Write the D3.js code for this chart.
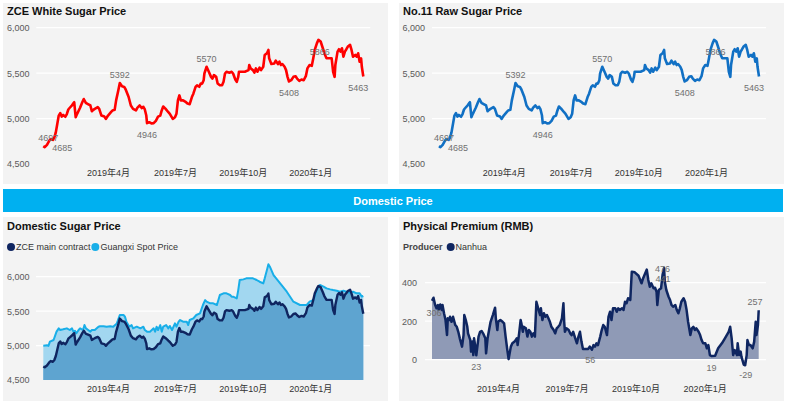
<!DOCTYPE html>
<html><head><meta charset="utf-8">
<script src="https://cdn.jsdelivr.net/npm/d3@7"></script>
<style>
body{margin:0;background:#fff}
svg{display:block}
text{font-family:'Liberation Sans',Arial,'Noto Sans CJK SC',sans-serif}
</style>
</head><body>
<svg id="c" width="786" height="404"></svg>
<script>
// ---------------- DATA ----------------
const whiteSugarSeries = [
["2019-01-03",4697],["2019-01-05",4685],["2019-01-08",4710],["2019-01-11",4755],["2019-01-13",4775],
["2019-01-16",4765],["2019-01-18",4790],["2019-01-20",4848],["2019-01-22",4940],["2019-01-24",5033],
["2019-01-26",5060],["2019-01-28",5022],["2019-01-30",5040],["2019-02-02",5020],["2019-02-04",5050],
["2019-02-06",5100],["2019-02-08",5119],["2019-02-11",5146],["2019-02-13",5170],["2019-02-14",5180],
["2019-02-16",5015],["2019-02-18",5052],["2019-02-22",5119],["2019-02-25",5180],["2019-02-27",5215],
["2019-03-02",5170],["2019-03-04",5163],["2019-03-08",5144],["2019-03-10",5081],["2019-03-12",5096],
["2019-03-14",5107],["2019-03-18",5126],["2019-03-20",5107],["2019-03-23",5033],["2019-03-27",5022],
["2019-03-29",4996],["2019-04-01",5033],["2019-04-05",5070],["2019-04-07",5089],["2019-04-10",5096],
["2019-04-12",5200],["2019-04-15",5311],["2019-04-17",5392],["2019-04-20",5355],["2019-04-23",5348],
["2019-04-25",5320],["2019-04-29",5237],["2019-05-02",5144],["2019-05-05",5107],["2019-05-09",5090],
["2019-05-11",5120],["2019-05-14",5144],["2019-05-17",5115],["2019-05-19",5130],["2019-05-21",5100],
["2019-05-23",5033],["2019-05-24",4950],["2019-05-27",4960],["2019-05-30",4946],["2019-06-02",4950],
["2019-06-05",4975],["2019-06-08",5022],["2019-06-11",5033],["2019-06-13",5089],["2019-06-15",5133],
["2019-06-18",5110],["2019-06-22",5070],["2019-06-24",5052],["2019-06-28",4996],["2019-07-01",5015],
["2019-07-03",5052],["2019-07-05",5200],["2019-07-07",5255],["2019-07-09",5200],["2019-07-12",5200],
["2019-07-16",5180],["2019-07-18",5165],["2019-07-21",5159],["2019-07-24",5237],["2019-07-26",5274],
["2019-07-29",5348],["2019-07-31",5366],["2019-08-03",5350],["2019-08-05",5385],["2019-08-07",5385],
["2019-08-09",5422],["2019-08-10",5496],["2019-08-13",5570],["2019-08-16",5515],["2019-08-19",5459],
["2019-08-21",5440],["2019-08-23",5478],["2019-08-26",5459],["2019-08-28",5385],["2019-08-31",5366],
["2019-09-03",5366],["2019-09-05",5404],["2019-09-07",5496],["2019-09-09",5515],["2019-09-13",5505],
["2019-09-16",5515],["2019-09-18",5496],["2019-09-21",5430],["2019-09-23",5404],["2019-09-25",5459],
["2019-09-26",5515],["2019-09-30",5515],["2019-10-04",5515],["2019-10-09",5533],["2019-10-10",5589],
["2019-10-12",5552],["2019-10-15",5533],["2019-10-17",5505],["2019-10-19",5552],["2019-10-21",5515],
["2019-10-24",5560],["2019-10-26",5533],["2019-10-29",5570],["2019-10-31",5700],["2019-11-03",5719],
["2019-11-05",5755],["2019-11-06",5663],["2019-11-09",5600],["2019-11-13",5607],["2019-11-15",5637],
["2019-11-18",5600],["2019-11-20",5626],["2019-11-22",5589],["2019-11-24",5600],["2019-11-27",5570],
["2019-11-29",5533],["2019-12-01",5459],["2019-12-03",5408],["2019-12-06",5422],["2019-12-09",5459],
["2019-12-12",5466],["2019-12-14",5440],["2019-12-17",5415],["2019-12-20",5430],["2019-12-23",5422],
["2019-12-26",5470],["2019-12-28",5552],["2019-12-31",5589],["2020-01-03",5580],["2020-01-05",5663],
["2020-01-07",5755],["2020-01-10",5830],["2020-01-12",5866],["2020-01-15",5848],["2020-01-18",5774],
["2020-01-20",5719],["2020-01-23",5663],["2020-01-28",5663],["2020-01-30",5663],["2020-02-01",5515],
["2020-02-03",5459],["2020-02-04",5589],["2020-02-07",5737],["2020-02-09",5763],["2020-02-11",5737],
["2020-02-13",5774],["2020-02-15",5681],["2020-02-17",5737],["2020-02-19",5763],["2020-02-21",5793],
["2020-02-24",5811],["2020-02-26",5755],["2020-02-28",5681],["2020-03-02",5700],["2020-03-04",5681],
["2020-03-06",5719],["2020-03-08",5626],["2020-03-10",5663],["2020-03-11",5570],["2020-03-13",5463]
];
// the reference shows the same curve in the No.11 panel
const rawSugarSeries = whiteSugarSeries;
// ZCE main contract in the domestic panel
const zceMainSeries = whiteSugarSeries;

const guangxiSpotSeries = [
["2019-01-03",4998],["2019-01-08",5005],["2019-01-10",4995],["2019-01-12",5057],["2019-01-17",5081],
["2019-01-21",5202],["2019-01-24",5250],["2019-01-26",5226],["2019-01-30",5236],["2019-02-04",5250],
["2019-02-08",5226],["2019-02-11",5250],["2019-02-13",5202],["2019-02-15",5215],["2019-02-17",5178],
["2019-02-20",5226],["2019-02-22",5250],["2019-02-26",5226],["2019-02-28",5298],["2019-03-02",5250],
["2019-03-05",5226],["2019-03-08",5202],["2019-03-10",5226],["2019-03-14",5226],["2019-03-19",5274],
["2019-03-21",5280],["2019-03-26",5280],["2019-03-30",5274],["2019-04-04",5280],["2019-04-08",5274],
["2019-04-13",5322],["2019-04-17",5444],["2019-04-22",5444],["2019-04-24",5420],["2019-04-26",5347],
["2019-04-30",5274],["2019-05-03",5298],["2019-05-05",5250],["2019-05-10",5274],["2019-05-15",5250],
["2019-05-19",5274],["2019-05-21",5226],["2019-05-24",5202],["2019-05-28",5202],["2019-06-02",5250],
["2019-06-04",5202],["2019-06-06",5274],["2019-06-08",5226],["2019-06-11",5298],["2019-06-13",5202],
["2019-06-15",5274],["2019-06-19",5298],["2019-06-22",5250],["2019-06-24",5285],["2019-06-27",5226],
["2019-07-01",5322],["2019-07-03",5274],["2019-07-06",5347],["2019-07-08",5371],["2019-07-12",5347],
["2019-07-17",5347],["2019-07-19",5298],["2019-07-21",5371],["2019-07-26",5395],["2019-07-30",5444],
["2019-08-04",5468],["2019-08-08",5589],["2019-08-11",5661],["2019-08-13",5637],["2019-08-18",5613],
["2019-08-22",5613],["2019-08-27",5589],["2019-08-31",5734],["2019-09-05",5758],["2019-09-09",5758],
["2019-09-14",5734],["2019-09-16",5710],["2019-09-18",5710],["2019-09-23",5685],["2019-09-25",5806],
["2019-09-27",5952],["2019-10-02",5961],["2019-10-06",5976],["2019-10-11",5976],["2019-10-15",5976],
["2019-10-20",5952],["2019-10-24",5927],["2019-10-29",5903],["2019-10-31",5976],["2019-11-03",6097],
["2019-11-05",6180],["2019-11-07",6145],["2019-11-12",6024],["2019-11-21",5903],["2019-11-30",5782],
["2019-12-09",5637],["2019-12-18",5589],["2019-12-27",5589],["2019-12-31",5637],["2020-01-05",5661],
["2020-01-10",5806],["2020-01-14",5879],["2020-01-19",5855],["2020-01-23",5830],["2020-01-28",5816],
["2020-02-01",5806],["2020-02-06",5796],["2020-02-10",5782],["2020-02-15",5796],["2020-02-19",5782],
["2020-02-24",5768],["2020-02-28",5782],["2020-03-04",5758],["2020-03-08",5758],["2020-03-11",5710],
["2020-03-13",5720]
];

const premiumSeries = [
["2019-01-03",306],["2019-01-05",322],["2019-01-07",287],["2019-01-09",267],["2019-01-11",284],
["2019-01-12",258],["2019-01-14",287],["2019-01-16",258],["2019-01-17",284],["2019-01-19",241],
["2019-01-21",206],["2019-01-23",128],["2019-01-24",215],["2019-01-26",206],["2019-01-27",223],
["2019-01-29",197],["2019-01-31",223],["2019-02-03",180],["2019-02-05",171],["2019-02-07",145],
["2019-02-09",111],["2019-02-12",68],["2019-02-14",128],["2019-02-15",232],["2019-02-17",206],
["2019-02-19",171],["2019-02-20",137],["2019-02-23",102],["2019-02-24",42],["2019-02-26",94],
["2019-02-27",24],["2019-02-28",111],["2019-03-02",59],["2019-03-03",23],["2019-03-06",120],
["2019-03-08",145],["2019-03-10",149],["2019-03-12",137],["2019-03-15",111],["2019-03-16",33],
["2019-03-18",111],["2019-03-20",154],["2019-03-22",197],["2019-03-25",232],["2019-03-28",270],
["2019-03-29",215],["2019-03-31",154],["2019-04-01",197],["2019-04-04",206],["2019-04-07",197],
["2019-04-09",189],["2019-04-11",120],["2019-04-13",59],["2019-04-15",3],["2019-04-18",68],
["2019-04-20",85],["2019-04-23",94],["2019-04-26",111],["2019-04-27",76],["2019-04-29",137],
["2019-05-01",206],["2019-05-02",189],["2019-05-04",145],["2019-05-05",171],["2019-05-08",163],
["2019-05-10",120],["2019-05-12",154],["2019-05-14",145],["2019-05-16",120],["2019-05-18",137],
["2019-05-20",120],["2019-05-22",301],["2019-05-25",258],["2019-05-27",232],["2019-05-28",267],
["2019-05-30",206],["2019-06-01",241],["2019-06-03",223],["2019-06-05",232],["2019-06-07",215],
["2019-06-09",197],["2019-06-11",171],["2019-06-14",154],["2019-06-16",137],["2019-06-18",163],
["2019-06-20",171],["2019-06-22",180],["2019-06-25",215],["2019-06-27",293],["2019-06-28",197],
["2019-06-29",145],["2019-07-01",163],["2019-07-04",154],["2019-07-06",137],["2019-07-08",128],
["2019-07-10",145],["2019-07-12",120],["2019-07-15",85],["2019-07-17",120],["2019-07-19",145],
["2019-07-21",94],["2019-07-23",56],["2019-07-26",56],["2019-07-28",56],["2019-07-30",56],
["2019-08-01",68],["2019-08-04",52],["2019-08-06",76],["2019-08-08",68],["2019-08-10",85],
["2019-08-12",76],["2019-08-15",120],["2019-08-17",154],["2019-08-19",180],["2019-08-21",171],
["2019-08-24",128],["2019-08-26",223],["2019-08-28",249],["2019-08-30",206],["2019-09-01",267],
["2019-09-04",267],["2019-09-06",249],["2019-09-08",267],["2019-09-10",258],["2019-09-13",267],
["2019-09-15",258],["2019-09-17",301],["2019-09-19",293],["2019-09-21",319],["2019-09-24",310],
["2019-09-26",457],["2019-09-30",454],["2019-10-05",436],["2019-10-09",397],["2019-10-11",422],
["2019-10-16",468],["2019-10-18",414],["2019-10-20",379],["2019-10-22",397],["2019-10-25",371],
["2019-10-27",374],["2019-10-29",353],["2019-10-30",284],["2019-11-01",362],["2019-11-04",371],
["2019-11-06",441],["2019-11-08",476],["2019-11-09",405],["2019-11-11",362],["2019-11-14",327],
["2019-11-16",310],["2019-11-18",284],["2019-11-20",275],["2019-11-23",284],["2019-11-25",258],
["2019-11-27",241],["2019-11-29",267],["2019-12-01",301],["2019-12-04",319],["2019-12-06",301],
["2019-12-08",258],["2019-12-10",197],["2019-12-13",128],["2019-12-15",163],["2019-12-17",171],
["2019-12-19",154],["2019-12-21",163],["2019-12-24",145],["2019-12-26",128],["2019-12-28",102],
["2019-12-30",85],["2020-01-02",85],["2020-01-04",59],["2020-01-06",76],["2020-01-08",24],
["2020-01-10",19],["2020-01-15",21],["2020-01-19",59],["2020-01-24",85],["2020-01-28",111],
["2020-02-02",145],["2020-02-04",171],["2020-02-06",111],["2020-02-08",24],["2020-02-10",50],
["2020-02-13",24],["2020-02-14",85],["2020-02-16",24],["2020-02-18",42],["2020-02-19",16],
["2020-02-22",-25],["2020-02-24",-29],["2020-02-26",24],["2020-02-27",102],["2020-02-29",76],
["2020-03-02",76],["2020-03-05",59],["2020-03-07",94],["2020-03-09",197],["2020-03-10",128],
["2020-03-12",180],["2020-03-13",257]
];

const xTickDates = ["2019-04-01","2019-07-01","2019-10-01","2020-01-01"];
const priceTicks = [4500,5000,5500,6000];
const premiumTicks = [0,200,400];
const priceLabelDates = ["2019-01-03","2019-01-05","2019-04-17","2019-05-30","2019-08-13","2020-01-12","2019-12-03","2020-03-13"];
const premiumLabelDates = ["2019-01-03","2019-03-03","2019-07-30","2019-11-08","2019-11-06","2020-01-10","2020-02-24","2020-03-13"];
const titles = ["ZCE White Sugar Price","No.11 Raw Sugar Price","Domestic Sugar Price","Physical Premium (RMB)"];
const bannerText = "Domestic Price";
const legendDomestic = ["ZCE main contract","Guangxi Spot Price"];
const legendPremiumTitle = "Producer";
const legendPremium = ["Nanhua"];

// ---------------- LAYOUT / STYLE ----------------
const parse = d3.timeParse("%Y-%m-%d");
const toPts = s => s.map(([d,v]) => ({date: parse(d), v}));
const white = toPts(whiteSugarSeries), raw = toPts(rawSugarSeries),
      zce = toPts(zceMainSeries), spot = toPts(guangxiSpotSeries), prem = toPts(premiumSeries);
const xDomain = [parse("2019-01-03"), parse("2020-03-13")];
const fmtX = d3.timeFormat("%Y年%-m月");
const fmtY = d3.format(",");
const svg = d3.select("#c");

const BG = "#f3f3f3";
// panel backgrounds
[[3,3],[399,3],[3,217],[399,217]].forEach(([x,y],i)=>{
  svg.append("rect").attr("x",x).attr("y",y).attr("width",385).attr("height", i<2?181:184).attr("fill",BG);
});
// banner
svg.append("rect").attr("x",3).attr("y",189).attr("width",780).attr("height",23).attr("fill","#00b0f0");
svg.append("text").attr("x",393).attr("y",205).attr("text-anchor","middle")
  .attr("fill","#fff").attr("font-size",11).attr("font-weight","bold").text(bannerText);

function title(x,y,t){
  svg.append("text").attr("x",x).attr("y",y).attr("font-size",11).attr("font-weight","bold")
    .attr("fill","#111").text(t);
}
title(7,15,titles[0]); title(403,15,titles[1]); title(7,230,titles[2]); title(403,230,titles[3]);

function axes(x, y, yTicks, yRight, xAxisY, gridTicks, gx0, gx1){
  // grid
  svg.append("g").selectAll("line").data(gridTicks).join("line")
    .attr("x1",gx0).attr("x2",gx1).attr("y1",d=>y(d)).attr("y2",d=>y(d))
    .attr("stroke","#ffffff").attr("stroke-width",1.2);
  const ya = svg.append("g").attr("transform",`translate(${yRight},0)`)
    .call(d3.axisLeft(y).tickValues(yTicks).tickFormat(fmtY).tickSize(0).tickPadding(0));
  ya.select(".domain").remove();
  ya.selectAll("text").attr("font-size",9).attr("fill","#5a5a5a")
    .style("font-family","'Liberation Sans',Arial,sans-serif");
  const xa = svg.append("g").attr("transform",`translate(0,${xAxisY})`)
    .call(d3.axisBottom(x).tickValues(xTickDates.map(parse)).tickFormat(fmtX).tickSize(0).tickPadding(0));
  xa.select(".domain").remove();
  xa.selectAll("text").attr("font-size",9).attr("fill","#333")
    .style("font-family","'Liberation Sans',Arial,'Noto Sans CJK SC',sans-serif");
}

function labels(x, y, pts, dates, offsets){
  const byDate = new Map(pts.map(p=>[+p.date,p]));
  dates.forEach((d,i)=>{
    const p = byDate.get(+parse(d)); if(!p) return;
    const [dx,dy] = offsets[i];
    svg.append("text").attr("x",x(p.date)+dx).attr("y",y(p.v)+dy+3.2)
      .attr("text-anchor","middle").attr("font-size",9).attr("fill","#707070").text(p.v);
  });
}

// ---- top panels ----
const priceLabelOffsets = [[5,-8.6],[17.5,1],[0,-8.2],[-4.4,11.2],[0,-8],[1.3,11.5],[0,11.5],[-5,11.5]];
function topPanel(pts, x0, color, yRight){
  const x = d3.scaleTime().domain(xDomain).range([x0, x0+320]);
  const y = d3.scaleLinear().domain([4500,6000]).range([164,27.7]);
  axes(x, y, priceTicks, yRight, 170, [5000,5500,6000], x0-7, x0+327);
  svg.append("path").datum(pts).attr("fill","none").attr("stroke",color).attr("stroke-width",2.6)
    .attr("stroke-linejoin","round")
    .attr("d", d3.line().x(d=>x(d.date)).y(d=>y(d.v)));
  labels(x, y, pts, priceLabelDates, priceLabelOffsets);
}
topPanel(white, 43.3, "#ff0000", 29.5);
topPanel(raw, 439, "#1170c4", 425);

// ---- domestic panel ----
{
  const x = d3.scaleTime().domain(xDomain).range([43.3, 363.3]);
  const y = d3.scaleLinear().domain([4500,6000]).range([380,276.7]);
  axes(x, y, priceTicks, 29.5, 386, [5000,5500,6000], 36, 370);
  svg.append("path").datum(spot).attr("fill","#a2d7f0")
    .attr("d", d3.area().x(d=>x(d.date)).y0(y(4500)).y1(d=>y(d.v)));
  svg.append("path").datum(zce).attr("fill","#5ea4d0")
    .attr("d", d3.area().x(d=>x(d.date)).y0(y(4500)).y1(d=>y(d.v)));
  svg.append("path").datum(spot).attr("fill","none").attr("stroke","#18aee8").attr("stroke-width",2)
    .attr("stroke-linejoin","round").attr("d", d3.line().x(d=>x(d.date)).y(d=>y(d.v)));
  svg.append("path").datum(zce).attr("fill","none").attr("stroke","#0f2560").attr("stroke-width",2.4)
    .attr("stroke-linejoin","round").attr("d", d3.line().x(d=>x(d.date)).y(d=>y(d.v)));
  // legend
  const lg = [[11, "#0f2560", 16], [95.3, "#18aee8", 100.5]];
  lg.forEach(([cx,c,tx],i)=>{
    svg.append("circle").attr("cx",cx).attr("cy",247).attr("r",4).attr("fill",c);
    svg.append("text").attr("x",tx).attr("y",250.3).attr("font-size",9).attr("fill","#333").text(legendDomestic[i]);
  });
}

// ---- premium panel ----
{
  const x = d3.scaleTime().domain(xDomain).range([432, 758.7]);
  const y = d3.scaleLinear().domain([0,400]).range([359.7,282.7]);
  axes(x, y, premiumTicks, 417, 386, [200,400], 425, 766);
  svg.append("path").datum(prem).attr("fill","#8f9ab6")
    .attr("d", d3.area().x(d=>x(d.date)).y0(y(0)).y1(d=>y(d.v)));
  svg.append("line").attr("x1",425).attr("x2",766).attr("y1",y(0)).attr("y2",y(0))
    .attr("stroke","#ffffff").attr("stroke-width",1.2);
  svg.append("path").datum(prem).attr("fill","none").attr("stroke","#0f2661").attr("stroke-width",2.5)
    .attr("stroke-linejoin","round").attr("d", d3.line().x(d=>x(d.date)).y(d=>y(d.v)));
  const premiumLabelOffsets = [[2,11.7],[0,11.4],[2,11],[-1.6,1.2],[0.4,3.9],[0,11.3],[0.6,10],[-3.7,-8.5]];
  labels(x, y, prem, premiumLabelDates, premiumLabelOffsets);
  svg.append("text").attr("x",403).attr("y",250.3).attr("font-size",9).attr("font-weight","bold")
    .attr("fill","#444").text(legendPremiumTitle);
  svg.append("circle").attr("cx",450.7).attr("cy",247).attr("r",4).attr("fill","#0f2661");
  svg.append("text").attr("x",455.5).attr("y",250.3).attr("font-size",9).attr("fill","#333").text(legendPremium[0]);
}
</script>
</body></html>
